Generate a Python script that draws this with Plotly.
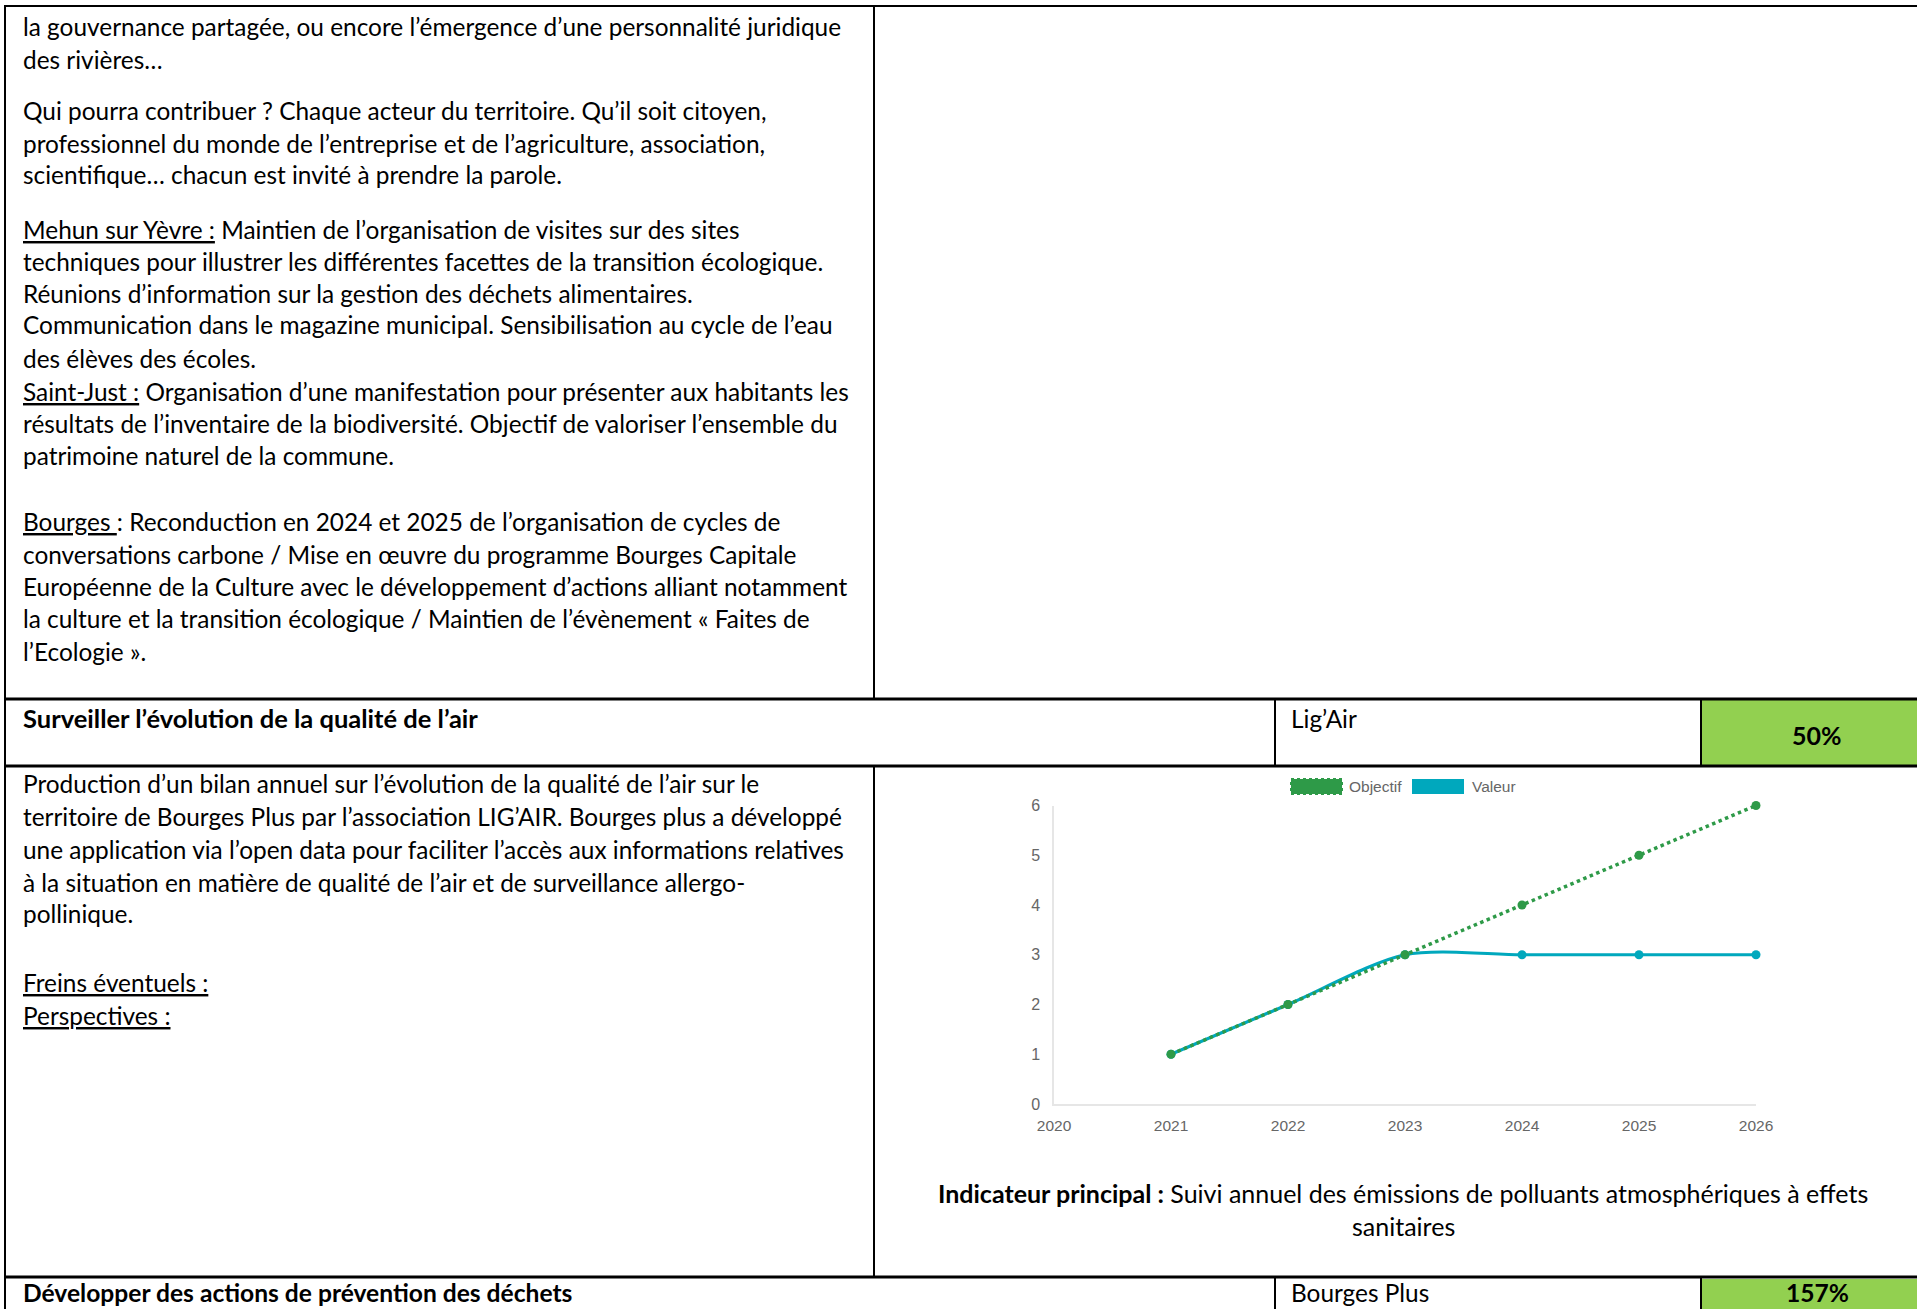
import plotly.graph_objects as go

W, H = 1917, 1309

# ---------------- data ----------------
years = [2021, 2022, 2023, 2024, 2025, 2026]
objectif = [1, 2, 3, 4, 5, 6]
valeur = [1, 2, 3, 3, 3, 3]
x_ticks = [2020, 2021, 2022, 2023, 2024, 2025, 2026]
y_ticks = [0, 1, 2, 3, 4, 5, 6]
series_names = ["Objectif", "Valeur"]

block1_lines = [
    "la gouvernance partagée, ou encore l’émergence d’une personnalité juridique",
    "des rivières…",
    "Qui pourra contribuer ? Chaque acteur du territoire. Qu’il soit citoyen,",
    "professionnel du monde de l’entreprise et de l’agriculture, association,",
    "scientifique… chacun est invité à prendre la parole.",
    "<u>Mehun sur Yèvre :</u> Maintien de l’organisation de visites sur des sites",
    "techniques pour illustrer les différentes facettes de la transition écologique.",
    "Réunions d’information sur la gestion des déchets alimentaires.",
    "Communication dans le magazine municipal. Sensibilisation au cycle de l’eau",
    "des élèves des écoles.",
    "<u>Saint-Just :</u> Organisation d’une manifestation pour présenter aux habitants les",
    "résultats de l’inventaire de la biodiversité. Objectif de valoriser l’ensemble du",
    "patrimoine naturel de la commune.",
    "<u>Bourges </u>: Reconduction en 2024 et 2025 de l’organisation de cycles de",
    "conversations carbone / Mise en œuvre du programme Bourges Capitale",
    "Européenne de la Culture avec le développement d’actions alliant notamment",
    "la culture et la transition écologique / Maintien de l’évènement « Faites de",
    "l’Ecologie ».",
]
block1_y = [26, 59, 110, 143, 175, 229, 261, 293, 325, 358, 391, 423, 456, 521, 554, 586, 619, 651]

block2_lines = [
    "Production d’un bilan annuel sur l’évolution de la qualité de l’air sur le",
    "territoire de Bourges Plus par l’association LIG’AIR. Bourges plus a développé",
    "une application via l’open data pour faciliter l’accès aux informations relatives",
    "à la situation en matière de qualité de l’air et de surveillance allergo-",
    "pollinique.",
    "<u>Freins éventuels :</u>",
    "<u>Perspectives :</u>",
]
block2_y = [784, 816, 849, 882, 913, 983, 1015]

header1 = ["Surveiller l’évolution de la qualité de l’air", "Lig’Air", "50%"]
header2 = ["Développer des actions de prévention des déchets", "Bourges Plus", "157%"]
caption_lines = ["<b>Indicateur principal :</b> Suivi annuel des émissions de polluants atmosphériques à effets",
                 "sanitaires"]

# ---------------- helpers ----------------
def px(x):
    return x / W

def py(y):
    return 1 - y / H

GREEN_CELL = "#92d050"
OBJ_COLOR = "#2e9a48"
VAL_COLOR = "#00a8bd"
TXT_FONT = "Lato, Calibri, Carlito, sans-serif"
FS = 24.4

fig = go.Figure()

fig.add_trace(go.Scatter(
    x=years, y=valeur, name=series_names[1], mode="lines+markers",
    line=dict(color=VAL_COLOR, width=3.2, shape="spline", smoothing=0.8),
    marker=dict(color=VAL_COLOR, size=9),
    cliponaxis=False, showlegend=False,
))
fig.add_trace(go.Scatter(
    x=years, y=objectif, name=series_names[0], mode="lines+markers",
    line=dict(color=OBJ_COLOR, width=3.5, dash="dot"),
    marker=dict(color=OBJ_COLOR, size=9),
    cliponaxis=False, showlegend=False,
))

shapes = []
def hline(y, x0, x1, w=3):
    shapes.append(dict(type="line", xref="paper", yref="paper", x0=px(x0), x1=px(x1),
                       y0=py(y), y1=py(y), line=dict(color="black", width=w)))
def vline(x, y0, y1, w=2):
    shapes.append(dict(type="line", xref="paper", yref="paper", x0=px(x), x1=px(x),
                       y0=py(y0), y1=py(y1), line=dict(color="black", width=w)))
def rect(x0, y0, x1, y1, fill, lw=0, lc=None, dash=None):
    shapes.append(dict(type="rect", xref="paper", yref="paper", x0=px(x0), x1=px(x1),
                       y0=py(y1), y1=py(y0), fillcolor=fill,
                       line=dict(color=lc or fill, width=lw, dash=dash), layer="below"))

# green score cells
rect(1702, 700, 1917, 765, GREEN_CELL)
rect(1702, 1279, 1917, 1309, GREEN_CELL)

# table grid
hline(6, 4, 1917, 2)
vline(5, 5, 1309, 2)
vline(874, 6, 699, 2)
hline(699, 4, 1917, 3)
vline(1275, 699, 766, 2)
vline(1701, 699, 766, 2)
hline(766, 4, 1917, 3)
vline(874, 766, 1277, 2)
hline(1277, 4, 1917, 3)
vline(1275, 1277, 1309, 2)
vline(1701, 1277, 1309, 2)

# custom chart legend
rect(1291, 779, 1342, 794, OBJ_COLOR, lw=2, lc=OBJ_COLOR, dash="dot")
rect(1412, 779, 1464, 794, VAL_COLOR)

ann = []
def text(x, y, t, size=FS, anchor="left", bold=False, color="black", font=TXT_FONT, yanchor="middle"):
    ann.append(dict(xref="paper", yref="paper", x=px(x), y=py(y), text=(f"<b>{t}</b>" if bold else t),
                    showarrow=False, xanchor=anchor, yanchor=yanchor,
                    font=dict(family=font, size=size, color=color)))

for t, y in zip(block1_lines, block1_y):
    text(21, y, t)
for t, y in zip(block2_lines, block2_y):
    text(21, y, t)

text(21, 718, header1[0], bold=True, size=25.5)
text(1289, 718, header1[1])
text(1817, 735, header1[2], bold=True, anchor="center", size=25)
text(21, 1308.5, header2[0], bold=True, size=24.6, yanchor="bottom")
text(1289, 1308.5, header2[1], yanchor="bottom")
text(1817, 1308.5, header2[2], bold=True, anchor="center", size=24.6, yanchor="bottom")

text(1403, 1193, caption_lines[0], anchor="center", size=25)
text(1403, 1226, caption_lines[1], anchor="center", size=25)

CH_FONT = "Liberation Sans, Arial, Helvetica, sans-serif"
text(1347, 786, series_names[0], size=15.5, color="#666666", font=CH_FONT)
text(1470, 786, series_names[1], size=15.5, color="#666666", font=CH_FONT)

fig.update_layout(
    template="none",
    width=W, height=H, autosize=False,
    margin=dict(l=0, r=0, t=0, b=0, pad=0, autoexpand=False),
    paper_bgcolor="white", plot_bgcolor="white",
    shapes=shapes, annotations=ann,
    showlegend=False,
    xaxis=dict(domain=[px(1054), px(1756)], range=[2020, 2026], tickvals=x_ticks,
               ticktext=[str(v) for v in x_ticks], showgrid=False, zeroline=False,
               showline=True, linecolor="#e6e6e6", linewidth=1.5, ticks="",
               ticklabelstandoff=7, automargin=False,
               tickfont=dict(family=CH_FONT, size=15.5, color="#666666")),
    yaxis=dict(domain=[py(1104), py(805.5)], range=[0, 6], tickvals=y_ticks,
               showgrid=False, zeroline=False, showline=True, linecolor="#e6e6e6",
               linewidth=1.5, ticks="", ticklabelstandoff=9, automargin=False,
               tickfont=dict(family=CH_FONT, size=16, color="#666666")),
)

fig.write_html(
    "out.html",
    config={"displayModeBar": False, "responsive": False},
    post_script="document.body.style.margin='0';document.body.style.overflow='hidden';",
)
